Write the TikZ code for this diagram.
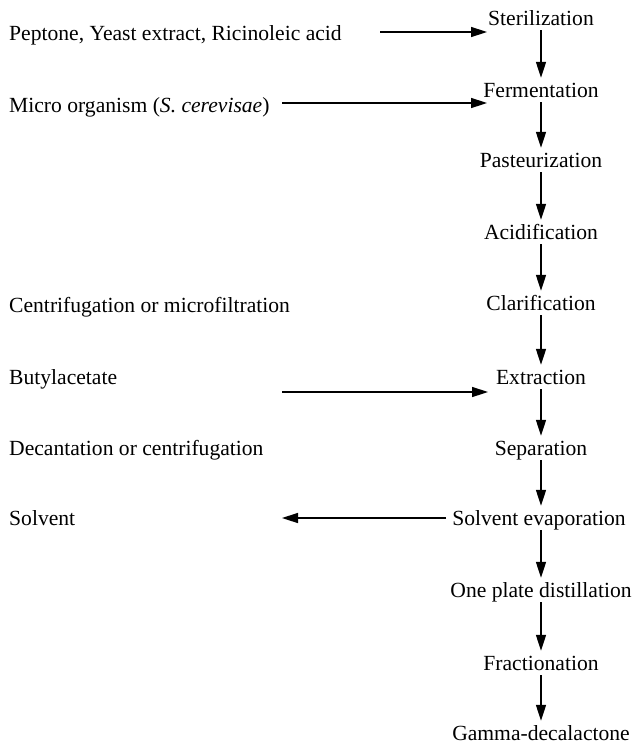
\documentclass[tikz,border=0pt]{standalone}
\usepackage{fontspec}
\setmainfont{Liberation Serif}
\usepackage{tikz}
\usetikzlibrary{arrows.meta}

\tikzset{
  txt/.style={font=\fontsize{21.6}{26}\selectfont, inner sep=0pt,
    text height=17pt, text depth=3pt},
  stage/.style={txt, minimum height=24pt},
  inlabel/.style={txt, anchor=west},
  flow/.style={line width=1.5pt, -{Triangle[length=16pt,width=10pt]}}
}

\begin{document}
\begin{tikzpicture}[x=1pt,y=-1pt]
    \useasboundingbox (0,0) rectangle (633,745);
    % process column
    \node[stage] (steril) at (541,18) {Sterilization};
    \node[stage] (ferm) at (541,90) {Fermentation};
    \node[stage] (pasteur) at (541,160) {Pasteurization};
    \node[stage] (acid) at (541,232) {Acidification};
    \node[stage] (clarif) at (541,303) {Clarification};
    \node[stage] (extract) at (541,377) {Extraction};
    \node[stage] (separ) at (541,448) {Separation};
    \node[stage] (solvevap) at (539,518) {Solvent evaporation};
    \node[stage] (distil) at (541,590) {One plate distillation};
    \node[stage] (fract) at (541,663) {Fractionation};
    \node[stage] (gamma) at (541,733) {Gamma-decalactone};
    % left hand labels
    \node[inlabel] (nutr) at (9,33) {Peptone, Yeast extract, Ricinoleic acid};
    \node[inlabel] (micro) at (9,105) {Micro organism (\textit{S. cerevisae})};
    \node[inlabel] (centr) at (9,305) {Centrifugation or microfiltration};
    \node[inlabel] (butyl) at (9,377) {Butylacetate};
    \node[inlabel] (decant) at (9,448) {Decantation or centrifugation};
    \node[inlabel] (solv) at (9,518) {Solvent};
    % free arrow ends
    \coordinate (nutrin) at (380,32);
    \coordinate (nutrout) at (487,32);
    \coordinate (microin) at (282,103);
    \coordinate (microout) at (487,103);
    \coordinate (butylin) at (282,392);
    \coordinate (butylout) at (488,392);
    \coordinate (solvout) at (282,518);
    % arrows
    \draw[flow] (steril) -- (ferm);
    \draw[flow] (ferm) -- (pasteur);
    \draw[flow] (pasteur) -- (acid);
    \draw[flow] (acid) -- (clarif);
    \draw[flow] (clarif) -- (extract);
    \draw[flow] (extract) -- (separ);
    \draw[flow] (separ.south) -- (separ.south |- solvevap.north);
    \draw[flow] (separ.south |- solvevap.south) -- (separ.south |- distil.north);
    \draw[flow] (distil) -- (fract);
    \draw[flow] (fract) -- (gamma);
    \draw[flow] (nutrin) -- (nutrout);
    \draw[flow] (microin) -- (microout);
    \draw[flow] (butylin) -- (butylout);
    \draw[flow] ([xshift=-6pt]solvevap.west) -- (solvout);
\end{tikzpicture}
\end{document}
